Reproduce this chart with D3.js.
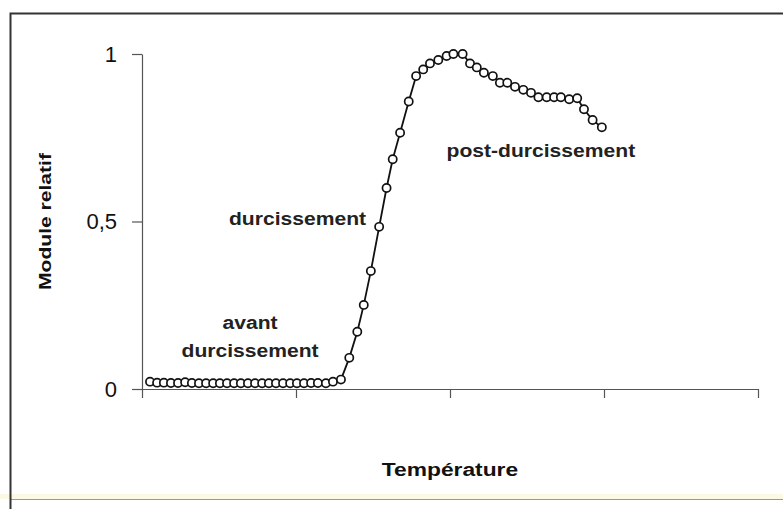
<!DOCTYPE html>
<html>
<head>
<meta charset="utf-8">
<script src="https://cdn.jsdelivr.net/npm/d3@7"></script>
<style>
  html, body { margin: 0; padding: 0; background: #ffffff; }
  svg { display: block; }
  text { font-family: "Liberation Sans", Arial, sans-serif; }
</style>
</head>
<body>
<svg id="chart" width="783" height="509"></svg>
<script>
// Relative modulus versus temperature during curing
const temperature = [
  2.6, 4.9, 7.1, 9.4, 11.7, 14.0, 16.2, 18.5, 20.8, 23.1, 25.3, 27.6, 29.9, 32.1,
  34.4, 36.7, 39.0, 41.2, 43.5, 45.8, 48.1, 50.3, 52.6, 54.9, 57.1, 59.7, 62.0, 64.6,
  67.3, 69.9, 72.0, 74.3, 77.0, 79.4, 81.4, 83.8, 86.6, 89.0, 91.3, 93.5, 96.2, 98.9,
  101.1, 104.1,
  106.5, 108.7, 111.0, 113.9, 116.2, 118.6, 121.1, 123.8, 126.3, 128.7, 131.4, 133.8,
  136.0, 138.7, 141.3, 143.5, 146.3, 149.3
];
const modulus = [
  0.022, 0.019, 0.019, 0.018, 0.018, 0.020, 0.018, 0.017, 0.017, 0.017, 0.017, 0.017, 0.017, 0.017,
  0.017, 0.017, 0.017, 0.017, 0.017, 0.017, 0.017, 0.017, 0.017, 0.018, 0.018, 0.017, 0.022, 0.028,
  0.093, 0.171, 0.251, 0.352, 0.484, 0.600, 0.686, 0.765, 0.858, 0.934, 0.954, 0.972, 0.982, 0.994,
  1.000, 1.000,
  0.972, 0.960, 0.944, 0.934, 0.914, 0.914, 0.902, 0.893, 0.884, 0.871, 0.871, 0.871,
  0.871, 0.865, 0.868, 0.835, 0.803, 0.781
];

const xTicks = [0, 50, 100, 150, 200];
const yTicks = [0, 0.5, 1];
const yTickLabels = ["0", "0,5", "1"];

// Phase annotations, anchored in data units
const phaseLabels = ["avant", "durcissement", "durcissement", "post-durcissement"];
const phaseTemps = [35.1, 35.1, 50.5, 129.5];
const phaseModuli = [0.179, 0.096, 0.490, 0.693];

const xTitle = "Température";
const yTitle = "Module relatif";

const svg = d3.select("#chart");

const x = d3.scaleLinear().domain([0, 200]).range([142, 758]);
const y = d3.scaleLinear().domain([0, 1]).range([389, 54]);

// Outer frame (open on the right) and bottom strip
svg.append("rect")
  .attr("x", 0).attr("y", 494).attr("width", 783).attr("height", 5)
  .attr("fill", "#fbf9e3");
svg.append("line")
  .attr("x1", 10).attr("x2", 783).attr("y1", 499.5).attr("y2", 499.5)
  .attr("stroke", "#9a9a90").attr("stroke-width", 1);
svg.append("path")
  .attr("d", "M783,13.5H10.5V509")
  .attr("fill", "none")
  .attr("stroke", "#333")
  .attr("stroke-width", 2);

// Axes
const yAxis = d3.axisLeft(y)
  .tickValues(yTicks)
  .tickFormat((d, i) => yTickLabels[i])
  .tickSize(10)
  .tickSizeOuter(0)
  .tickPadding(15);

const xAxis = d3.axisBottom(x)
  .tickValues(xTicks)
  .tickFormat("")
  .tickSize(9)
  .tickSizeOuter(0);

const gx = svg.append("g").attr("transform", `translate(0,${y(0)})`).call(xAxis);
const gy = svg.append("g").attr("transform", `translate(${x(0)},0)`).call(yAxis);

[gx, gy].forEach(g => {
  g.select(".domain").attr("stroke", "#555").attr("stroke-width", 1.2);
  g.selectAll(".tick line").attr("stroke", "#555").attr("stroke-width", 1.2);
});
gy.selectAll(".tick text")
  .attr("font-size", 22)
  .attr("fill", "#111")
  .attr("font-family", "'Liberation Sans', Arial, sans-serif");

// Curve and markers
const pts = temperature.map((t, i) => ({ t, m: modulus[i] }));
const line = d3.line().x(d => x(d.t)).y(d => y(d.m));

svg.append("path")
  .datum(pts)
  .attr("d", line)
  .attr("fill", "none")
  .attr("stroke", "#111")
  .attr("stroke-width", 1.8);

svg.append("g")
  .selectAll("circle")
  .data(pts)
  .join("circle")
  .attr("cx", d => x(d.t))
  .attr("cy", d => y(d.m))
  .attr("r", 4.1)
  .attr("fill", "#fff")
  .attr("stroke", "#111")
  .attr("stroke-width", 1.7);

// Phase labels (slightly widened bold type)
phaseLabels.forEach((label, i) => {
  svg.append("g")
    .attr("transform", `translate(${x(phaseTemps[i])},${y(phaseModuli[i])}) scale(1.11,1)`)
    .append("text")
    .attr("text-anchor", "middle")
    .attr("font-size", 19)
    .attr("font-weight", "bold")
    .attr("fill", "#222")
    .text(label);
});

// Axis titles
svg.append("g")
  .attr("transform", `translate(${(x.range()[0] + x.range()[1]) / 2},476) scale(1.2,1)`)
  .append("text")
  .attr("text-anchor", "middle")
  .attr("font-size", 19)
  .attr("font-weight", "bold")
  .attr("fill", "#111")
  .text(xTitle);

svg.append("g")
  .attr("transform", `translate(51,${y(0.5)}) rotate(-90) scale(1.24,1)`)
  .append("text")
  .attr("text-anchor", "middle")
  .attr("font-size", 17)
  .attr("font-weight", "bold")
  .attr("fill", "#111")
  .text(yTitle);
</script>
</body>
</html>
